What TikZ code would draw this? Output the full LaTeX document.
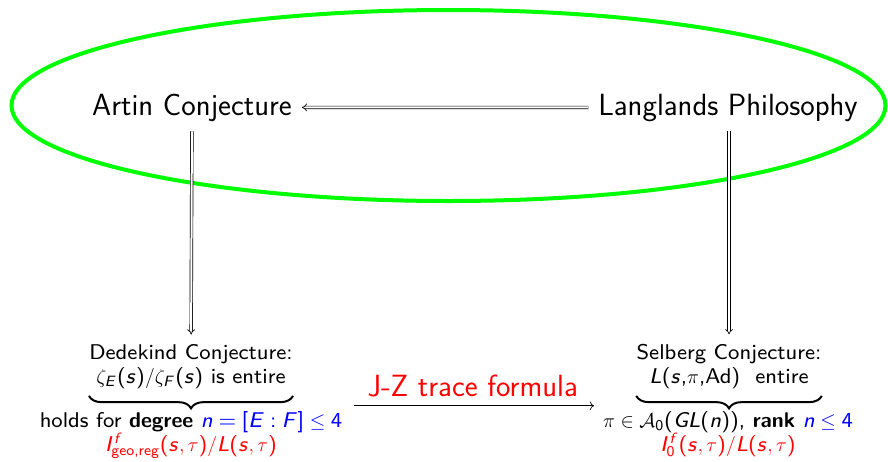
\documentclass[tikz,border=0pt]{standalone}
\usepackage{amsmath,amssymb}
\usepackage[no-math]{fontspec}
\newfontfamily\smallsf{lmsans8-regular.otf}[BoldFont=lmsans10-bold.otf]
\usetikzlibrary{arrows.meta,decorations.pathreplacing}
% sans serif math letters and digits
\DeclareFontFamily{OT1}{sfm}{}
\DeclareFontShape{OT1}{sfm}{m}{n}{<-> cmss8}{}
\DeclareFontShape{OT1}{sfm}{m}{sl}{<-> cmssi8}{}
\DeclareSymbolFont{sfletters}{OT1}{sfm}{m}{sl}
\SetSymbolFont{operators}{normal}{OT1}{sfm}{m}{n}
\newcount\lettercnt
\def\sfmathletters#1#2{\lettercnt=`#1\relax
  \loop \mathcode\lettercnt=\numexpr"7000+\symsfletters*256+\lettercnt\relax
  \ifnum\lettercnt<`#2 \advance\lettercnt by 1 \repeat}
\sfmathletters az
\sfmathletters AZ
\setlength{\lineskiplimit}{-20pt}

\begin{document}
\begin{tikzpicture}[x=0.6pt,y=-0.6pt,
  big/.style={font=\sffamily\fontsize{18.4}{22}\selectfont},
  small/.style={font=\smallsf\fontsize{12.8}{14}\selectfont,align=center},
  imp/.style={double,double distance=1.2pt,-{Implies},shorten <=2.5pt,shorten >=2.5pt},
  ubrace/.style={decorate,decoration={brace,mirror,amplitude=7.5pt},line width=1.2pt}]
\useasboundingbox (0,0) rectangle (888,461);
\draw[green,line width=2.4pt] (448.5,105.5) ellipse [x radius=437, y radius=95.5];
% top row
\node[big,anchor=base] (artin) at (192,115) {Artin Conjecture};
\node[big,anchor=base] (langlands) at (728,115) {Langlands Philosophy};
\draw[imp] (langlands) -- (artin);
% bottom row
\node[small,anchor=base,inner xsep=0pt] (dedekind) at (191,383) {Dedekind Conjecture:\\ $\zeta_E(s)/\zeta_F(s)$ is entire};
\node[small,anchor=base,inner xsep=0pt] (selberg) at (729,383) {Selberg Conjecture:\\ $L(s$,$\pi$,Ad$)$\ \ entire};
\draw[ubrace] ([yshift=-1pt]dedekind.south west) -- ([yshift=-1pt]dedekind.south east);
\draw[ubrace] ([yshift=-1pt]selberg.south west) -- ([yshift=-1pt]selberg.south east);
\node[small,anchor=base] (degree) at (191,451) {holds for \textbf{degree} \textcolor{blue}{$n=[E:F]\le 4$}\\ \textcolor{red}{$I^f_{\text{geo,reg}}(s,\tau)/L(s,\tau)$}};
\node[small,anchor=base] (rank) at (728,451) {$\pi\in\mathcal{A}_0(GL(n))$, \textbf{rank} \textcolor{blue}{$n\le 4$}\\ \textcolor{red}{$I^f_0(s,\tau)/L(s,\tau)$}};
\draw[imp] (artin) -- (dedekind);
\draw[imp] (langlands.south -| selberg) -- (selberg);
\draw[->,shorten <=3.6pt,shorten >=2pt] (degree.north east) -- node[above,red,big,yshift=2pt] (jz) {J-Z trace formula} (rank.north west);
\end{tikzpicture}
\end{document}
